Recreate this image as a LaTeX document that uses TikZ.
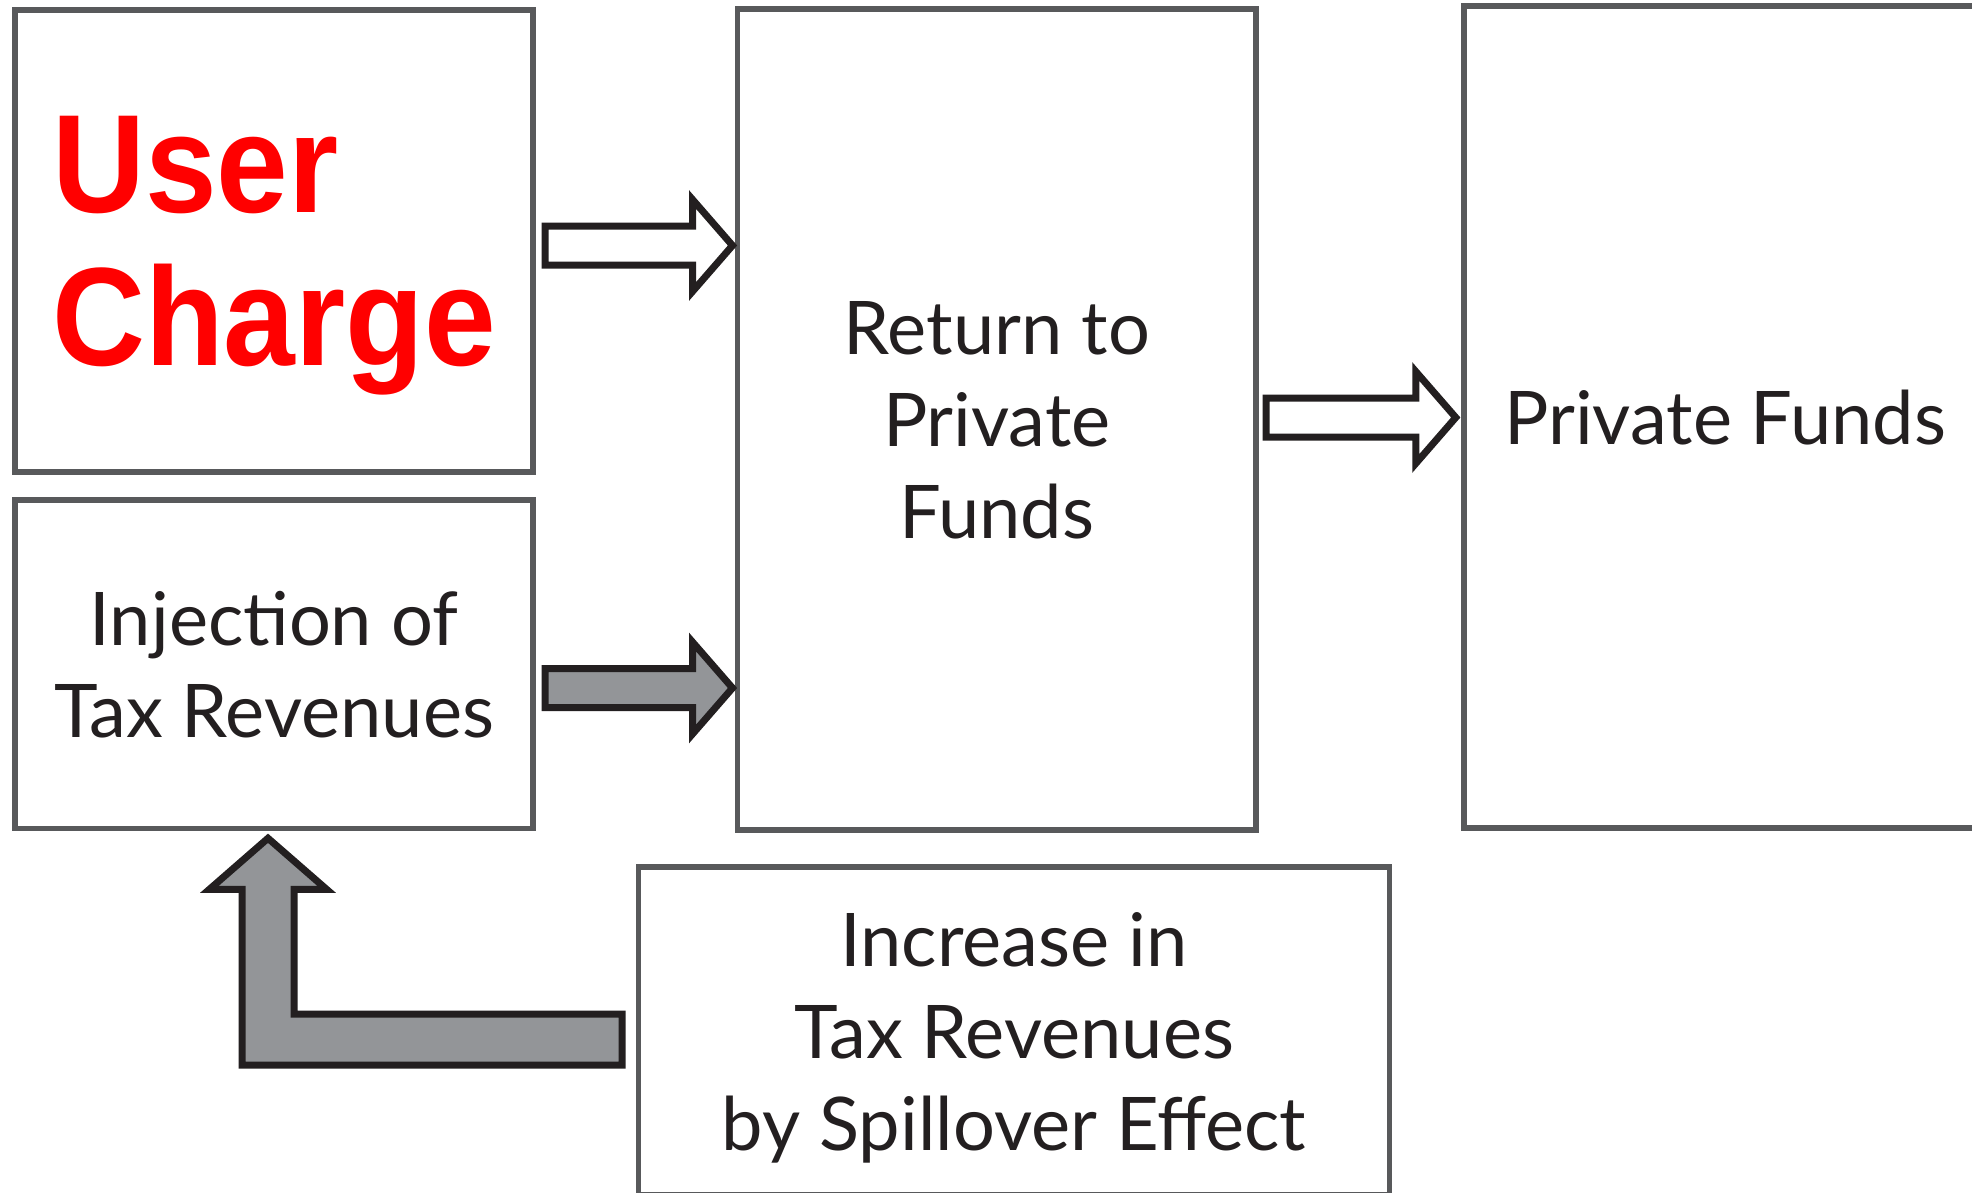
\documentclass[tikz,border=0pt]{standalone}
\usepackage{fontspec}
\usepackage{graphicx}
\setmainfont{Lato}
\newfontfamily\ucfont{Liberation Sans}
\usetikzlibrary{calc}
\definecolor{boxgray}{HTML}{58595B}
\definecolor{inkblack}{HTML}{231F20}
\definecolor{arrowgray}{HTML}{939598}
\definecolor{ucred}{HTML}{FF0000}
\tikzset{
  box/.style={draw=boxgray, line width=5.5pt, rectangle, inner sep=0pt, outer sep=0pt,
    text=inkblack, align=center, text depth=0pt, font=\fontsize{74}{92}\selectfont},
  blockarrow/.style={draw=inkblack, line width=7pt, line join=miter, miter limit=10},
}
% #1 start coordinate, #2 tip coordinate (same y), #3 fill colour
\newcommand\rblockarrow[3]{%
  \draw[blockarrow, fill=#3] ($(#1)+(0,-19.5)$) -- ($(#2)+(-40,-19.5)$) -- ($(#2)+(-40,-46)$)
    -- (#2) -- ($(#2)+(-40,46)$) -- ($(#2)+(-40,19.5)$) -- ($(#1)+(0,19.5)$) -- cycle;}
\begin{document}
\begin{tikzpicture}[x=1pt,y=-1pt]
\useasboundingbox (0,0) rectangle (1972,1193);
\clip (0,0) rectangle (1972,1193);
\fill[white] (0,0) rectangle (1972,1193);

\node[box, minimum width=518, minimum height=462, align=left, text=ucred, text depth=-6pt,
  font=\ucfont\bfseries\fontsize{140}{153}\selectfont] (A) at (274,241)
  {\scalebox{0.92}[1]{User}\\\scalebox{0.92}[1]{Charge}};
\node[box, minimum width=518, minimum height=328.5] (B) at (274,664) {Injection of\\Tax Revenues};
\node[box, minimum width=518.5, minimum height=821, text depth=-12pt] (C) at (996.75,419.5) {Return to\\Private\\Funds};
\node[box, minimum width=523, minimum height=822, text depth=-10pt] (D) at (1725.25,417) {Private Funds};
\node[box, minimum width=751, minimum height=328] (E) at (1014,1031) {Increase in\\Tax Revenues\\by Spillover Effect};

% straight block arrows
\coordinate (s1) at ($(A.east)+(12,4.5)$);
\coordinate (t1) at ($(s1 -| C.west)+(-5,0)$);
\rblockarrow{s1}{t1}{white}
\coordinate (s2) at ($(B.east)+(12,24)$);
\coordinate (t2) at ($(s2 -| C.west)+(-5,0)$);
\rblockarrow{s2}{t2}{arrowgray}
\coordinate (s3) at ($(C.east)+(10,-2)$);
\coordinate (t3) at ($(s3 -| D.west)+(-8,0)$);
\rblockarrow{s3}{t3}{white}

% bent block arrow from E to B
\coordinate (Ls) at ($(E.west)+(-16.5,8.5)$);
\coordinate (Lt) at ($(B.south)+(-6,10)$);
\draw[blockarrow, fill=arrowgray] ($(Ls)+(0,-25.5)$) -- ($(Lt|-Ls)+(26,-25.5)$)
  -- ($(Lt)+(26,51)$) -- ($(Lt)+(58.5,51)$) -- (Lt) -- ($(Lt)+(-58.5,51)$)
  -- ($(Lt)+(-26,51)$) -- ($(Lt|-Ls)+(-26,25.5)$) -- ($(Ls)+(0,25.5)$) -- cycle;
\end{tikzpicture}
\end{document}
